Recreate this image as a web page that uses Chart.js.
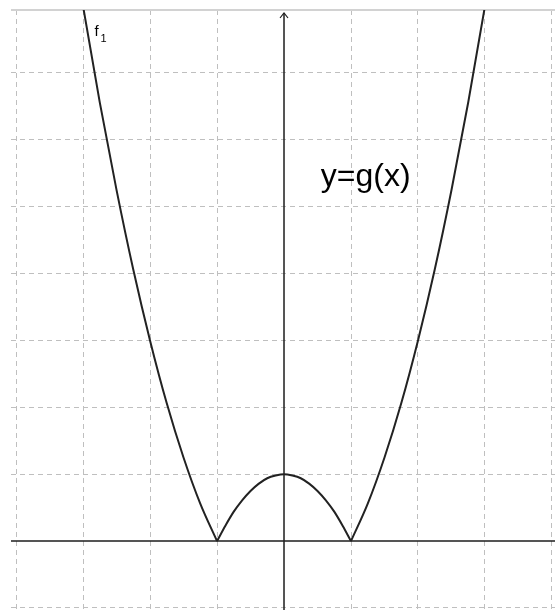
<!DOCTYPE html>
<html>
<head>
<meta charset="utf-8">
<script src="https://cdn.jsdelivr.net/npm/chart.js@4/dist/chart.umd.min.js"></script>
<style>
html, body { margin: 0; padding: 0; background: #fff; }
canvas { display: block; }
</style>
</head>
<body>
<canvas id="graph" width="555" height="610"></canvas>
<script>
const leftX = [-3.25, -3, -2.75, -2.5, -2.25, -2, -1.75, -1.5, -1.25, -1];
const leftY = [9.56, 8, 6.56, 5.25, 4.06, 3, 2.06, 1.25, 0.56, 0];
const archX = [-1, -0.875, -0.75, -0.625, -0.5, -0.375, -0.25, -0.125, 0,
               0.125, 0.25, 0.375, 0.5, 0.625, 0.75, 0.875, 1];
const archY = [0, 0.23, 0.44, 0.61, 0.75, 0.86, 0.94, 0.98, 1,
               0.98, 0.94, 0.86, 0.75, 0.61, 0.44, 0.23, 0];
const rightX = [1, 1.25, 1.5, 1.75, 2, 2.25, 2.5, 2.75, 3, 3.25];
const rightY = [0, 0.56, 1.25, 2.06, 3, 4.06, 5.25, 6.56, 8, 9.56];
const xRange = [-4.075, 4.045];
const yRange = [-1.03, 7.94];
const curveName = 'f';
const curveSub = '1';
const graphLabel = 'y=g(x)';

const toPoints = (xs, ys) => xs.map((x, i) => ({ x: x, y: ys[i] }));

const piece = (xs, ys) => ({
    data: toPoints(xs, ys),
    borderColor: '#222',
    borderWidth: 2,
    pointRadius: 0,
    cubicInterpolationMode: 'monotone',
    fill: false
});

const decor = {
    id: 'decor',
    beforeDatasetsDraw(chart) {
        const { ctx, chartArea: a, scales: { x, y } } = chart;
        const x0 = x.getPixelForValue(0);
        const y0 = y.getPixelForValue(0);
        ctx.save();
        // top frame line
        ctx.strokeStyle = '#d2d2d2';
        ctx.lineWidth = 2;
        ctx.beginPath();
        ctx.moveTo(a.left, a.top);
        ctx.lineTo(a.right, a.top);
        ctx.stroke();
        // axes
        ctx.strokeStyle = '#1e1e1e';
        ctx.lineWidth = 1.5;
        ctx.beginPath();
        ctx.moveTo(a.left, y0);
        ctx.lineTo(a.right, y0);
        ctx.moveTo(x0, a.bottom);
        ctx.lineTo(x0, a.top + 3);
        ctx.stroke();
        // arrow head on y axis
        ctx.lineWidth = 1.2;
        ctx.beginPath();
        ctx.moveTo(x0 - 4, a.top + 8);
        ctx.lineTo(x0, a.top + 3);
        ctx.lineTo(x0 + 4, a.top + 8);
        ctx.stroke();
        ctx.restore();
    },
    afterDraw(chart) {
        const { ctx, scales: { x, y } } = chart;
        ctx.save();
        ctx.fillStyle = '#000';
        ctx.textBaseline = 'alphabetic';
        ctx.textAlign = 'left';
        ctx.font = '32px "Liberation Sans", Arial, sans-serif';
        ctx.fillText(graphLabel, x.getPixelForValue(0.55), y.getPixelForValue(5.31));
        const fx = x.getPixelForValue(-2.83);
        const fy = y.getPixelForValue(7.55);
        ctx.font = '15px "Liberation Sans", Arial, sans-serif';
        ctx.fillText(curveName, fx, fy);
        ctx.font = '11px "Liberation Sans", Arial, sans-serif';
        ctx.fillText(curveSub, fx + 6, fy + 6);
        ctx.restore();
    }
};

const gridStyle = {
    color: (c) => c.tick && c.tick.value === 0 ? 'rgba(0,0,0,0)' : '#bfbfbf',
    lineWidth: 1,
    drawTicks: false
};

new Chart(document.getElementById('graph'), {
    type: 'line',
    data: {
        datasets: [
            piece(leftX, leftY),
            piece(archX, archY),
            piece(rightX, rightY)
        ]
    },
    options: {
        responsive: false,
        animation: false,
        layout: { padding: { left: 11, top: 10, right: 0, bottom: 0 } },
        scales: {
            x: {
                type: 'linear',
                min: xRange[0],
                max: xRange[1],
                ticks: { display: false, stepSize: 1, includeBounds: false },
                grid: gridStyle,
                border: { display: false, dash: [5, 4] }
            },
            y: {
                type: 'linear',
                min: yRange[0],
                max: yRange[1],
                ticks: { display: false, stepSize: 1, includeBounds: false },
                grid: gridStyle,
                border: { display: false, dash: [5, 4] }
            }
        },
        plugins: {
            legend: { display: false },
            tooltip: { enabled: false }
        }
    },
    plugins: [decor]
});
</script>
</body>
</html>
